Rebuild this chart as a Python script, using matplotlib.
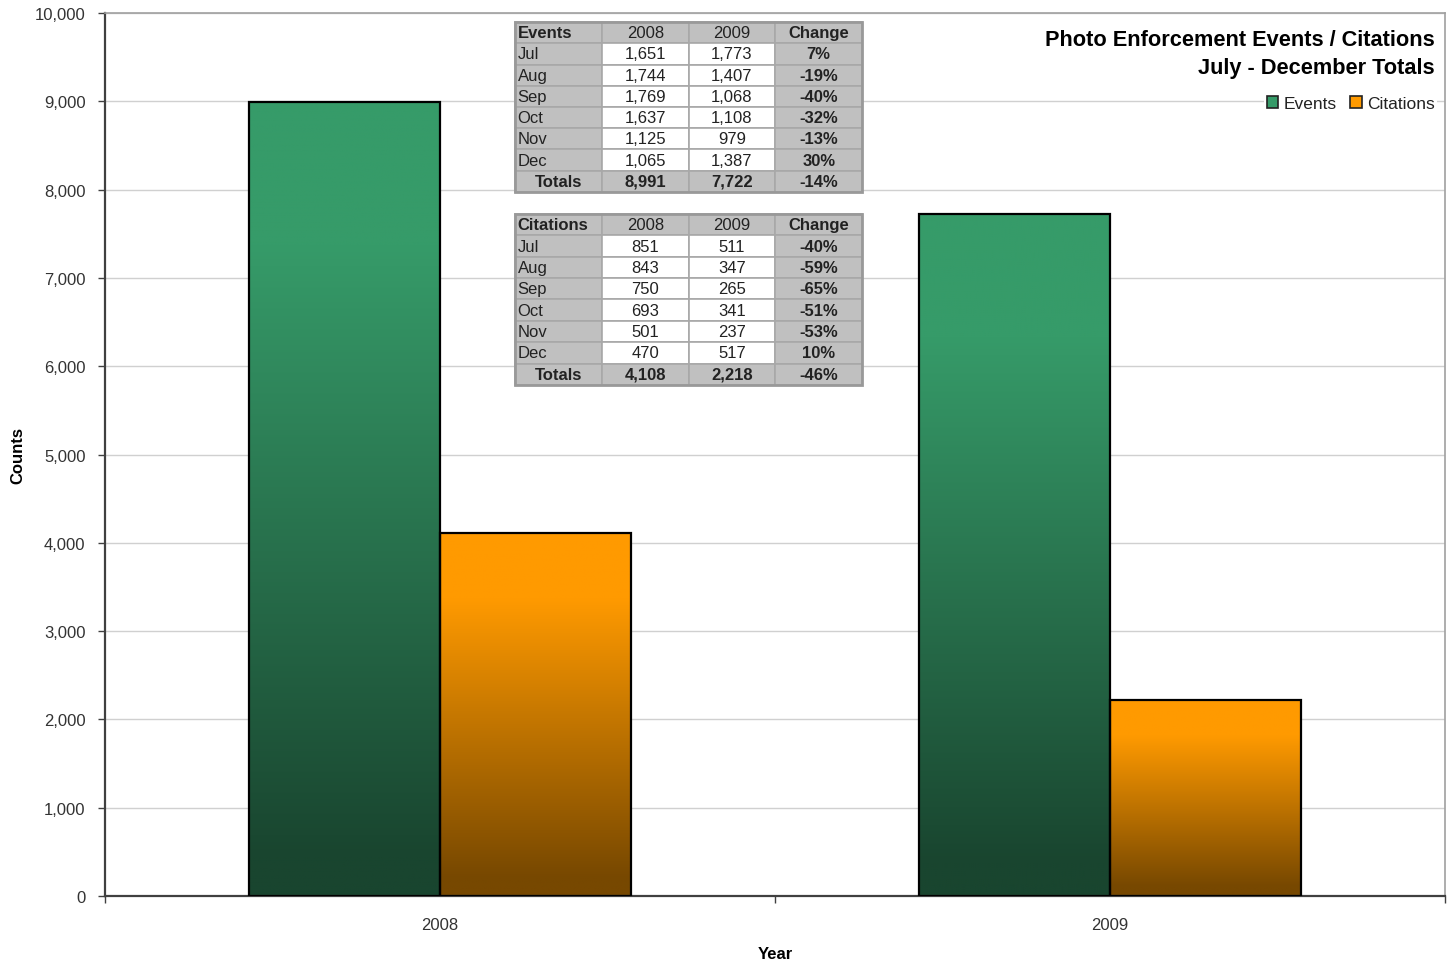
import matplotlib
matplotlib.use("Agg")
import matplotlib.pyplot as plt
import numpy as np
from matplotlib.colors import to_rgb

plt.rcParams['font.family'] = ['Liberation Sans', 'DejaVu Sans']

# ---- data ----
years = ["2008", "2009"]
series_names = ["Events", "Citations"]
events_totals = [8991, 7722]
citations_totals = [4108, 2218]

months = ["Jul", "Aug", "Sep", "Oct", "Nov", "Dec"]
events_2008 = ["1,651", "1,744", "1,769", "1,637", "1,125", "1,065"]
events_2009 = ["1,773", "1,407", "1,068", "1,108", "979", "1,387"]
events_change = ["7%", "-19%", "-40%", "-32%", "-13%", "30%"]
events_tot_row = ["Totals", "8,991", "7,722", "-14%"]

cit_2008 = ["851", "843", "750", "693", "501", "470"]
cit_2009 = ["511", "347", "265", "341", "237", "517"]
cit_change = ["-40%", "-59%", "-65%", "-51%", "-53%", "10%"]
cit_tot_row = ["Totals", "4,108", "2,218", "-46%"]

yticks = list(range(0, 10001, 1000))

# ---- styling ----
green_top, green_bot = "#369B69", "#19452F"
orange_top, orange_bot = "#FF9A00", "#774800"

fig = plt.figure(figsize=(14.53, 9.62), dpi=100)
ax = fig.add_axes([105/1453, 1-897/962, 1340/1453, 883/962])

x = np.arange(len(years))
w = 0.285
b1 = ax.bar(x - w/2, events_totals, w, facecolor="none", edgecolor="black", linewidth=1.6, zorder=3)
b2 = ax.bar(x + w/2, citations_totals, w, facecolor="none", edgecolor="black", linewidth=1.6, zorder=3)


def gradient(ctop, cbot, n=1024):
    t = np.linspace(0, 1, n)  # 0 = top
    s = np.clip((t - 0.18) / (0.95 - 0.18), 0, 1)
    a = np.array(to_rgb(ctop)); b = np.array(to_rgb(cbot))
    cols = a[None, :] * (1 - s[:, None]) + b[None, :] * s[:, None]
    return cols[:, None, :]

for bars, (ct, cb) in ((b1, (green_top, green_bot)), (b2, (orange_top, orange_bot))):
    g = gradient(ct, cb)
    for p in bars.patches:
        x0, y0 = p.get_x(), p.get_y()
        ax.imshow(g, extent=[x0, x0 + p.get_width(), y0, y0 + p.get_height()],
                  aspect="auto", zorder=2, interpolation="antialiased")

ax.set_xlim(-0.5, 1.5)
ax.set_ylim(0, 10000)

ax.set_yticks(yticks)
ax.set_yticklabels([f"{v:,}" for v in yticks], fontsize=12, color="#333333")
ax.set_xticks(x)
ax.set_xticklabels(years, fontsize=12, color="#333333")
ax.set_xticks([-0.5, 0.5, 1.5], minor=True)
ax.tick_params(axis="x", which="major", length=0, pad=15)
ax.tick_params(axis="x", which="minor", length=5, width=1, color="#404040", direction="out")
ax.tick_params(axis="y", length=5, width=1, color="#404040", direction="out", pad=9)

ax.grid(axis="y", color="#d0d0d0", linewidth=1, zorder=0)
ax.set_axisbelow(True)
for s in ("left", "bottom"):
    ax.spines[s].set_color("#404040"); ax.spines[s].set_linewidth(1.6)
for s in ("top", "right"):
    ax.spines[s].set_color("#a0a0a0"); ax.spines[s].set_linewidth(1.2)

ax.set_ylabel("Counts", fontsize=12, fontweight="bold", labelpad=7)
ax.set_xlabel("Year", fontsize=12, fontweight="bold", labelpad=10)

# title
ax.text(0.9925, 0.982, "Photo Enforcement Events / Citations\nJuly - December Totals",
        transform=ax.transAxes, ha="right", va="top", fontsize=15.7, fontweight="bold",
        linespacing=1.45, zorder=6)

# legend
leg = ax.legend([b1.patches[0], b2.patches[0]], series_names, loc="upper right",
                bbox_to_anchor=(0.9942, 0.909), ncol=2, frameon=True, fontsize=12.5,
                handlelength=0.65, handleheight=0.65, handletextpad=0.3, columnspacing=0.8,
                borderpad=0.15, borderaxespad=0)
leg.get_frame().set_edgecolor("none")
leg.get_frame().set_facecolor("white")
leg.get_frame().set_alpha(1)
for h, c in zip(leg.legend_handles, (green_top, orange_top)):
    h.set_facecolor(c); h.set_edgecolor("#222222"); h.set_linewidth(1.2)
leg.set_zorder(6)
for t in leg.get_texts():
    t.set_color("#222222")


def make_table(title, col2008, col2009, change, totals, bbox):
    rows = [[title, "2008", "2009", "Change"]]
    for m, a, b, c in zip(months, col2008, col2009, change):
        rows.append([m, a, b, c])
    rows.append(totals)
    gray = "#c0c0c0"
    colors = []
    for i in range(len(rows)):
        if i == 0 or i == len(rows) - 1:
            colors.append([gray] * 4)
        else:
            colors.append([gray, "white", "white", gray])
    tb = ax.table(cellText=rows, cellColours=colors, bbox=bbox, zorder=7)
    tb.auto_set_font_size(False)
    for (r, c), cell in tb.get_celld().items():
        cell.set_edgecolor("#a8a8a8")
        cell.set_linewidth(1.2)
        txt = cell.get_text()
        txt.set_fontsize(12)
        txt.set_color("#222222")
        if c == 0 and r < len(rows) - 1:
            cell._loc = "left"
            txt.set_ha("left")
            cell.PAD = 0.03
            if r == 0:
                txt.set_fontweight("bold")
        else:
            txt.set_ha("center")
        if c == 3 or r == len(rows) - 1:
            txt.set_fontweight("bold")
        if r == 0 and c in (1, 2):
            txt.set_fontweight("normal")
    x0, y0, bw, bh = bbox
    ax.add_patch(plt.Rectangle((x0, y0), bw, bh, transform=ax.transAxes, fill=False,
                               edgecolor="#999999", linewidth=2, zorder=8, clip_on=False))
    return tb

make_table("Events", events_2008, events_2009, events_change, events_tot_row,
           [0.306, 0.7973, 0.259, 0.1925])
make_table("Citations", cit_2008, cit_2009, cit_change, cit_tot_row,
           [0.306, 0.5787, 0.259, 0.1937])

fig.savefig("out.png", dpi=100)
